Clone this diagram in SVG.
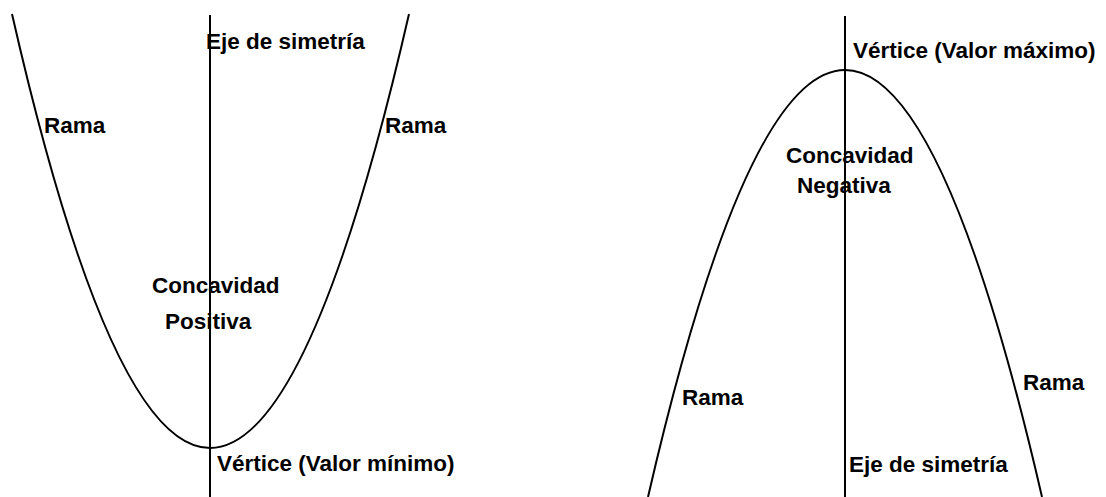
<svg xmlns="http://www.w3.org/2000/svg" width="1106" height="497" viewBox="0 0 1106 497">
  <style>
    .curve { fill: none; stroke: #000; stroke-width: 2; }
    .axis { stroke: #000; stroke-width: 2; }
    text { font-family: "Liberation Sans", Arial, sans-serif; font-weight: bold; font-size: 22.5px; fill: #000; }
  </style>
  <rect width="1106" height="497" fill="#fff"/>

  <!-- Upward-opening parabola -->
  <g id="parabola-up">
    <path class="curve" d="M12,14 Q111,448 210,448 Q309.5,448 409,14"/>
    <line class="axis" x1="210" y1="15" x2="210" y2="497"/>
    <text x="206" y="49">Eje de simetría</text>
    <text x="44" y="133">Rama</text>
    <text x="385" y="133">Rama</text>
    <text x="152" y="293">Concavidad</text>
    <text x="165" y="329">Positiva</text>
    <text x="217" y="471">Vértice (Valor mínimo)</text>
  </g>

  <!-- Downward-opening parabola -->
  <g id="parabola-down">
    <path class="curve" d="M648,497 Q746.5,70 845,70 Q943.5,70 1042,497"/>
    <line class="axis" x1="845" y1="16" x2="845" y2="497"/>
    <text x="853" y="58">Vértice (Valor máximo)</text>
    <text x="786" y="163">Concavidad</text>
    <text x="797" y="193">Negativa</text>
    <text x="682" y="405">Rama</text>
    <text x="1023" y="390">Rama</text>
    <text x="849" y="472">Eje de simetría</text>
  </g>
</svg>
